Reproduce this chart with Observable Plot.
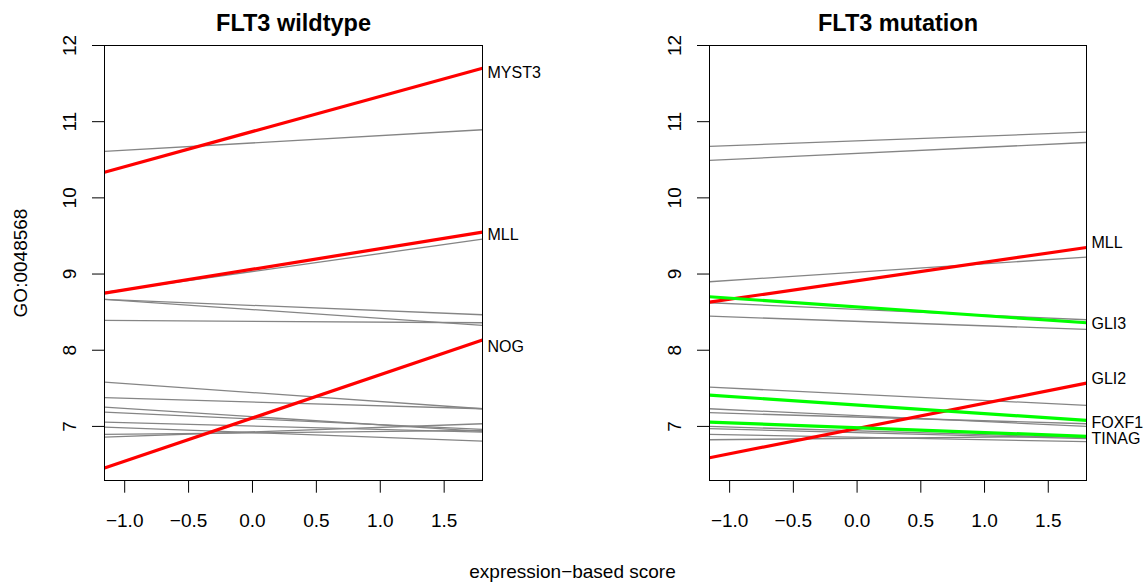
<!DOCTYPE html>
<html><head><meta charset="utf-8">
<script src="https://cdn.jsdelivr.net/npm/d3@7"></script>
<script src="https://cdn.jsdelivr.net/npm/@observablehq/plot@0.6"></script>
<style>
body{margin:0;background:#fff;font-family:"Liberation Sans",Arial,sans-serif;}
#chart{position:relative;width:1145px;height:584px;overflow:hidden;background:#fff;}
#chart svg{position:absolute;top:0;}
#xlabel{position:absolute;left:0;width:1145px;text-align:center;top:562px;font-size:19px;line-height:19px;color:#000;}
</style></head>
<body><div id="chart"><div id="xlabel"></div></div>
<script>
// axes
const xDomain = [-1.158, 1.80];
const yDomain = [6.29, 12.0];
const xTicks = [-1, -0.5, 0, 0.5, 1, 1.5];
const yTicks = [7, 8, 9, 10, 11, 12];
const panelTitles = ["FLT3 wildtype", "FLT3 mutation"];
const yLabel = "GO:0048568";
const xLabel = "expression\u2212based score";

// FLT3 wildtype: gray (non-significant) genes, value at left and right edge of score range
const wtGrayStart = [10.609, 8.76, 8.667, 8.667, 8.391, 7.581, 7.377, 7.253, 7.188, 7.057, 6.991, 6.895, 6.86];
const wtGrayEnd   = [10.894, 9.458, 8.325, 8.466, 8.361, 7.232, 7.232, 6.934, 6.96, 6.925, 6.807, 6.947, 7.035];
// FLT3 wildtype: highlighted genes
const wtGene   = ["MYST3", "MLL", "NOG"];
const wtDir    = ["up", "up", "up"];
const wtStart  = [10.337, 8.749, 6.453];
const wtEnd    = [11.702, 9.55, 8.133];
const wtLabelY = [11.64, 9.52, 8.05];

// FLT3 mutation: gray genes
const mutGrayStart = [10.675, 10.491, 8.899, 8.623, 8.447, 7.516, 7.232, 7.18, 7.0, 6.97, 6.895, 6.825];
const mutGrayEnd   = [10.862, 10.727, 9.222, 8.40, 8.273, 7.276, 7.0, 7.035, 6.852, 6.84, 6.80, 6.87];
// FLT3 mutation: highlighted genes
const mutGene   = ["MLL", "GLI3", "GLI2", "FOXF1", "TINAG"];
const mutDir    = ["up", "down", "up", "down", "down"];
const mutStart  = [8.631, 8.702, 6.589, 7.411, 7.057];
const mutEnd    = [9.349, 8.361, 7.568, 7.079, 6.869];
const mutLabelY = [9.405, 8.34, 7.626, 7.04, 6.835];

const dirColor = {up: "#FF0000", down: "#00FF00"};
const fmt = d3.format(".1f");
const FONT = "Liberation Sans, Arial, Helvetica, sans-serif";

function panel({title, grayStart, grayEnd, gene, dir, start, end, labelY, width, marginLeft, marginRight, showYLabel}) {
  const gray = grayStart.map((s, i) => ({x1: xDomain[0], x2: xDomain[1], y1: s, y2: grayEnd[i]}));
  const hi = start.map((s, i) => ({x1: xDomain[0], x2: xDomain[1], y1: s, y2: end[i], gene: gene[i], dir: dir[i], ly: labelY[i]}));
  const marks = [
    Plot.link(gray, {x1: "x1", x2: "x2", y1: "y1", y2: "y2", stroke: "#858585", strokeWidth: 1.3, strokeLinecap: "butt"}),
    Plot.link(hi, {x1: "x1", x2: "x2", y1: "y1", y2: "y2", stroke: d => dirColor[d.dir], strokeWidth: 3.2, strokeLinecap: "butt"}),
    Plot.frame({stroke: "#000", strokeWidth: 1}),
    Plot.axisX({ticks: xTicks, tickSize: 12.7, tickPadding: 20.5, tickFormat: fmt, fontSize: 19, label: null, stroke: "#000", fill: "#000"}),
    Plot.axisY({ticks: yTicks, tickSize: 12, tickFormat: () => "", label: null, stroke: "#000"}),
    Plot.text(yTicks, {frameAnchor: "left", y: d => d, dx: -35, rotate: -90, textAnchor: "middle", lineAnchor: "middle", text: d => String(d), fontSize: 19, fill: "#000"}),
    Plot.text(hi, {x: "x2", y: "ly", text: "gene", textAnchor: "start", dx: 5, fontSize: 16, fill: "#000"}),
    Plot.text([title], {frameAnchor: "top", dy: -22, lineAnchor: "middle", textAnchor: "middle", text: d => d, fontSize: 23.5, fontWeight: "bold", fill: "#000"})
  ];
  if (showYLabel) marks.push(Plot.text([yLabel], {frameAnchor: "left", dx: -84, rotate: -90, textAnchor: "middle", lineAnchor: "middle", text: d => d, fontSize: 19, fill: "#000"}));
  return Plot.plot({
    width, height: 584,
    marginLeft, marginRight, marginTop: 45, marginBottom: 104,
    x: {domain: xDomain},
    y: {domain: yDomain},
    style: {fontFamily: FONT, background: "white", color: "#000", overflow: "visible"},
    marks
  });
}

const left = panel({title: panelTitles[0], grayStart: wtGrayStart, grayEnd: wtGrayEnd, gene: wtGene, dir: wtDir, start: wtStart, end: wtEnd, labelY: wtLabelY,
  width: 572, marginLeft: 104, marginRight: 90, showYLabel: true});
const right = panel({title: panelTitles[1], grayStart: mutGrayStart, grayEnd: mutGrayEnd, gene: mutGene, dir: mutDir, start: mutStart, end: mutEnd, labelY: mutLabelY,
  width: 573, marginLeft: 137, marginRight: 59, showYLabel: false});
left.style.left = "0px";
right.style.left = "572px";
const chart = document.getElementById("chart");
chart.insertBefore(left, chart.firstChild);
chart.insertBefore(right, chart.firstChild.nextSibling);
document.getElementById("xlabel").textContent = xLabel;
</script>
</body></html>
